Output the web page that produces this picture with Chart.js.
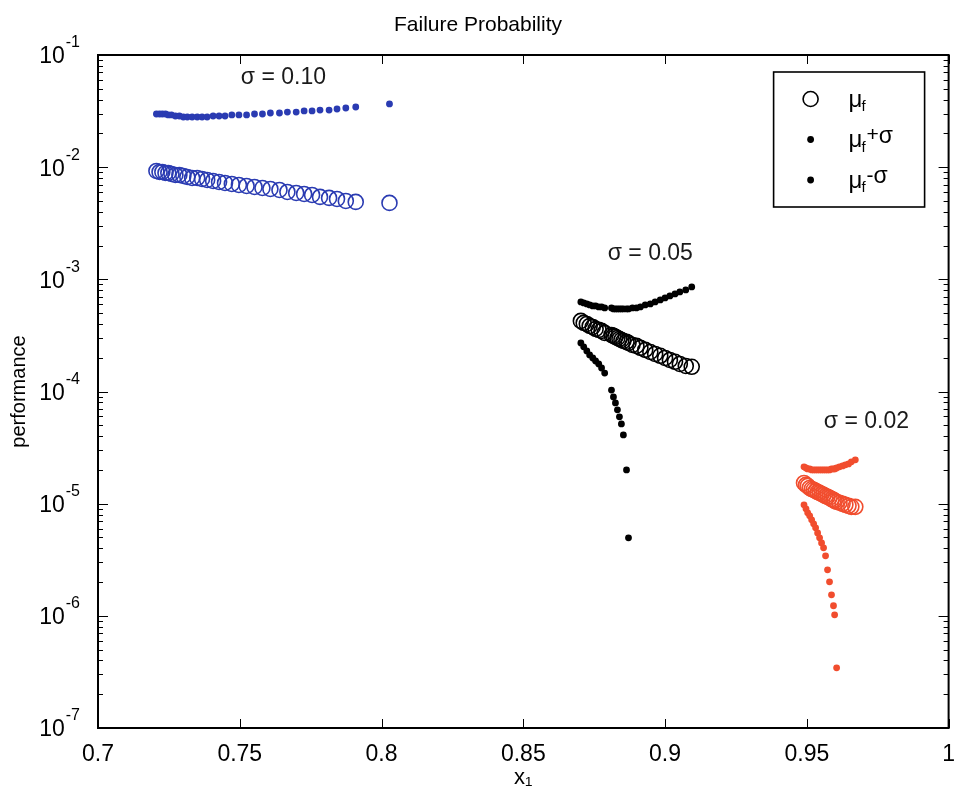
<!DOCTYPE html>
<html>
<head>
<meta charset="utf-8">
<script src="https://cdn.jsdelivr.net/npm/chart.js@4.4.1/dist/chart.umd.min.js"></script>
<style>
  html, body { margin: 0; padding: 0; background: #fff; }
  #wrap { width: 960px; height: 807px; }
</style>
</head>
<body>
<div id="wrap"><canvas id="c" width="960" height="807"></canvas></div>
<script>
const FONT = '"Liberation Sans", Arial, Helvetica, sans-serif';

// sigma = 0.10 (blue): x1, mean failure probability, mean + sigma
const xBlue = [0.7206,0.7217,0.7227,0.7238,0.7248,0.7259,0.7273,0.7287,0.7301,0.7315,0.7332,0.7350,0.7367,0.7385,0.7406,0.7427,0.7448,0.7472,0.7497,0.7524,0.7552,0.7580,0.7608,0.7640,0.7668,0.7699,0.7727,0.7755,0.7783,0.7815,0.7843,0.7874,0.7909,0.8028];
const muBlue = [9.25e-3,9.06e-3,9.06e-3,8.88e-3,8.88e-3,8.70e-3,8.52e-3,8.52e-3,8.35e-3,8.18e-3,8.01e-3,8.01e-3,7.85e-3,7.69e-3,7.53e-3,7.38e-3,7.23e-3,7.08e-3,6.94e-3,6.80e-3,6.66e-3,6.52e-3,6.39e-3,6.26e-3,6.01e-3,5.89e-3,5.77e-3,5.65e-3,5.43e-3,5.32e-3,5.21e-3,5.00e-3,4.90e-3,4.80e-3];
const plusBlue = [0.0298,0.0298,0.0298,0.0298,0.0292,0.0292,0.0286,0.0286,0.0280,0.0280,0.0280,0.0280,0.0280,0.0280,0.0286,0.0286,0.0286,0.0292,0.0292,0.0292,0.0298,0.0298,0.0304,0.0304,0.0310,0.0310,0.0317,0.0317,0.0323,0.0323,0.0330,0.0337,0.0344,0.0366];

// sigma = 0.05 (black)
const xBlack = [0.8703,0.8713,0.8724,0.8734,0.8745,0.8755,0.8766,0.8776,0.8787,0.8811,0.8818,0.8825,0.8832,0.8839,0.8846,0.8853,0.8864,0.8871,0.8885,0.8899,0.8913,0.8930,0.8948,0.8965,0.8983,0.9000,0.9017,0.9035,0.9052,0.9073,0.9094];
const muBlack = [4.26e-4,4.09e-4,4.00e-4,3.84e-4,3.76e-4,3.61e-4,3.54e-4,3.47e-4,3.33e-4,3.19e-4,3.13e-4,3.07e-4,3.00e-4,2.94e-4,2.88e-4,2.82e-4,2.77e-4,2.71e-4,2.60e-4,2.55e-4,2.45e-4,2.35e-4,2.25e-4,2.16e-4,2.08e-4,1.99e-4,1.91e-4,1.84e-4,1.76e-4,1.69e-4,1.66e-4];
const plusBlack = [6.29e-4,6.16e-4,6.04e-4,5.91e-4,5.79e-4,5.79e-4,5.68e-4,5.68e-4,5.56e-4,5.56e-4,5.45e-4,5.45e-4,5.45e-4,5.45e-4,5.45e-4,5.45e-4,5.45e-4,5.45e-4,5.56e-4,5.56e-4,5.68e-4,5.91e-4,6.04e-4,6.29e-4,6.55e-4,6.83e-4,7.11e-4,7.41e-4,7.72e-4,8.05e-4,8.55e-4];
const minusBlack = [2.71e-4,2.50e-4,2.30e-4,2.12e-4,1.99e-4,1.87e-4,1.76e-4,1.62e-4,1.46e-4,1.03e-4,8.95e-5,7.91e-5,6.86e-5,5.94e-5,5.14e-5,4.10e-5,2.00e-5,4.96e-6,null,null,null,null,null,null,null,null,null,null,null,null,null];

// sigma = 0.02 (red)
const xRed = [0.9490,0.9497,0.9503,0.9510,0.9517,0.9524,0.9531,0.9538,0.9545,0.9552,0.9559,0.9566,0.9573,0.9580,0.9587,0.9594,0.9598,0.9605,0.9615,0.9626,0.9636,0.9647,0.9657,0.9671];
const muRed = [1.53e-5,1.47e-5,1.44e-5,1.38e-5,1.35e-5,1.33e-5,1.30e-5,1.27e-5,1.25e-5,1.22e-5,1.20e-5,1.17e-5,1.15e-5,1.13e-5,1.10e-5,1.08e-5,1.06e-5,1.04e-5,1.02e-5,9.96e-6,9.76e-6,9.56e-6,9.37e-6,9.37e-6];
const plusRed = [2.13e-5,2.08e-5,2.04e-5,2.04e-5,2.00e-5,2.00e-5,2.00e-5,2.00e-5,2.00e-5,2.00e-5,2.00e-5,2.00e-5,2.00e-5,2.00e-5,2.04e-5,2.04e-5,2.04e-5,2.08e-5,2.13e-5,2.17e-5,2.22e-5,2.26e-5,2.36e-5,2.46e-5];
const minusRed = [9.76e-6,8.99e-6,8.28e-6,7.79e-6,7.17e-6,6.61e-6,6.09e-6,5.49e-6,4.96e-6,4.47e-6,4.04e-6,3.43e-6,2.57e-6,2.01e-6,1.54e-6,1.23e-6,1.02e-6,3.44e-7,null,null,null,null,null,null];

// axis ticks
const xTickValues = [0.7,0.75,0.8,0.85,0.9,0.95,1];
const yTickExponents = [-7,-6,-5,-4,-3,-2,-1];

// group annotations
const sigmaText = ['σ = 0.10','σ = 0.05','σ = 0.02'];
const sigmaX = [0.7654,0.8948,0.9710];
const sigmaY = [0.0624,1.68e-3,5.36e-5];

// legend rows: marker kind and the text after μ_f
const legendMarker = ['open','dot','dot'];
const legendSuffix = ['','+σ','-σ'];

const BLUE = '#2a3bb2';
const RED = '#f14d2e';
const BLACK = '#000000';

const toPoints = (xs, ys) => xs.map((x, i) => ({ x: x, y: ys[i] })).filter(p => p.y != null);

function openSet(label, xs, ys, color) {
  return {
    label, data: toPoints(xs, ys), showLine: false,
    pointStyle: 'circle', pointRadius: 7.5, pointHoverRadius: 7.5,
    pointBorderWidth: 1.6, pointBorderColor: color, borderColor: color,
    pointBackgroundColor: 'rgba(0,0,0,0)', backgroundColor: 'rgba(0,0,0,0)'
  };
}
function dotSet(label, xs, ys, color) {
  return {
    label, data: toPoints(xs, ys), showLine: false,
    pointStyle: 'circle', pointRadius: 3.4, pointHoverRadius: 3.4,
    pointBorderWidth: 0, pointBorderColor: color, borderColor: color,
    pointBackgroundColor: color, backgroundColor: color
  };
}

const axesAndNotes = {
  id: 'axesAndNotes',
  beforeDatasetsDraw(chart) {
    const { ctx, chartArea: a, scales: { x, y } } = chart;
    ctx.save();
    ctx.strokeStyle = '#000';
    ctx.lineWidth = 1;
    const seg = (x0, y0, x1, y1) => { ctx.beginPath(); ctx.moveTo(x0, y0); ctx.lineTo(x1, y1); ctx.stroke(); };
    xTickValues.forEach(v => {
      const px = Math.round(x.getPixelForValue(v)) + 0.5;
      seg(px, a.bottom, px, a.bottom - 9);
      seg(px, a.top, px, a.top + 9);
    });
    yTickExponents.forEach(e => {
      for (let m = 1; m <= 9; m++) {
        if (e === -1 && m > 1) break;
        const py = Math.round(y.getPixelForValue(m * Math.pow(10, e))) + 0.5;
        const len = m === 1 ? 10 : 5;
        seg(a.left, py, a.left + len, py);
        seg(a.right, py, a.right - len, py);
      }
    });
    ctx.lineWidth = 2;
    ctx.strokeRect(a.left, a.top, a.right - a.left, a.bottom - a.top);
    ctx.restore();
  },
  afterDraw(chart) {
    const { ctx, chartArea: a, scales: { x, y } } = chart;
    ctx.save();
    ctx.fillStyle = '#000';
    ctx.textBaseline = 'middle';

    // decade labels 10^n
    yTickExponents.forEach(e => {
      const py = y.getPixelForValue(Math.pow(10, e));
      const sup = String(e);
      ctx.font = '16px ' + FONT;
      const supW = ctx.measureText(sup).width;
      const right = a.left - 18;
      ctx.textAlign = 'left';
      ctx.fillText(sup, right - supW, py - 12);
      ctx.font = '23px ' + FONT;
      ctx.textAlign = 'right';
      ctx.fillText('10', right - supW - 1, py + 2);
    });

    // sigma annotations
    ctx.font = '23px ' + FONT;
    ctx.textAlign = 'center';
    ctx.fillStyle = '#1a1a1a';
    sigmaText.forEach((t, i) => {
      ctx.fillText(t, x.getPixelForValue(sigmaX[i]), y.getPixelForValue(sigmaY[i]));
    });

    // legend box
    const bx = a.right - 175, by = a.top + 17, bw = 151, bh = 135;
    ctx.fillStyle = '#fff';
    ctx.fillRect(bx, by, bw, bh);
    ctx.strokeStyle = '#000';
    ctx.lineWidth = 1.6;
    ctx.strokeRect(bx, by, bw, bh);
    legendMarker.forEach((kind, i) => {
      const cy = by + 27 + i * 40.5;
      const mx = bx + 37;
      ctx.beginPath();
      if (kind === 'open') {
        ctx.lineWidth = 1.6;
        ctx.arc(mx, cy, 7.5, 0, Math.PI * 2);
        ctx.stroke();
      } else {
        ctx.fillStyle = '#000';
        ctx.arc(mx, cy, 3.4, 0, Math.PI * 2);
        ctx.fill();
      }
      ctx.fillStyle = '#000';
      ctx.textAlign = 'left';
      let tx = bx + 75;
      ctx.font = '24px ' + FONT;
      ctx.fillText('μ', tx, cy + 1);
      tx += ctx.measureText('μ').width - 1;
      ctx.font = '15px ' + FONT;
      ctx.fillText('f', tx, cy + 8);
      tx += ctx.measureText('f').width + 1;
      if (legendSuffix[i]) {
        const sign = legendSuffix[i][0];
        ctx.font = '21px ' + FONT;
        ctx.fillText(sign, tx, cy - 4);
        tx += ctx.measureText(sign).width;
        ctx.font = '23px ' + FONT;
        ctx.fillText(legendSuffix[i].slice(1), tx, cy - 3);
      }
    });
    ctx.restore();
  }
};

new Chart(document.getElementById('c'), {
  type: 'scatter',
  data: {
    datasets: [
      openSet('μf (σ = 0.10)', xBlue, muBlue, BLUE),
      dotSet('μf+σ (σ = 0.10)', xBlue, plusBlue, BLUE),
      openSet('μf (σ = 0.05)', xBlack, muBlack, BLACK),
      dotSet('μf+σ (σ = 0.05)', xBlack, plusBlack, BLACK),
      dotSet('μf-σ (σ = 0.05)', xBlack, minusBlack, BLACK),
      openSet('μf (σ = 0.02)', xRed, muRed, RED),
      dotSet('μf+σ (σ = 0.02)', xRed, plusRed, RED),
      dotSet('μf-σ (σ = 0.02)', xRed, minusRed, RED)
    ]
  },
  options: {
    responsive: false,
    animation: false,
    devicePixelRatio: 1,
    layout: { padding: { left: 0, right: 4, top: 0, bottom: 0 } },
    plugins: {
      legend: { display: false },
      tooltip: { enabled: false },
      title: {
        display: true,
        text: 'Failure Probability',
        color: '#000',
        font: { family: FONT, size: 21, weight: 'normal' },
        padding: { top: 13, bottom: 16.8 }
      }
    },
    scales: {
      x: {
        type: 'linear',
        min: 0.7, max: 1,
        grid: { display: false },
        border: { display: false },
        afterBuildTicks: s => { s.ticks = xTickValues.map(v => ({ value: v })); },
        afterFit: s => { s.height = 79; },
        ticks: {
          color: '#000',
          font: { family: FONT, size: 23 },
          padding: 5,
          maxRotation: 0,
          autoSkip: false,
          callback: v => String(+v.toFixed(2))
        },
        title: {
          display: true,
          text: 'x₁',
          color: '#000',
          font: { family: FONT, size: 22 },
          padding: { top: 0, bottom: 16 }
        }
      },
      y: {
        type: 'logarithmic',
        min: 1e-7, max: 1e-1,
        grid: { display: false },
        border: { display: false },
        ticks: { display: false },
        afterFit: s => { s.width = 98; },
        title: {
          display: true,
          text: 'performance',
          color: '#000',
          font: { family: FONT, size: 20 },
          padding: { top: 7, bottom: 0 }
        }
      }
    }
  },
  plugins: [axesAndNotes]
});
</script>
</body>
</html>
